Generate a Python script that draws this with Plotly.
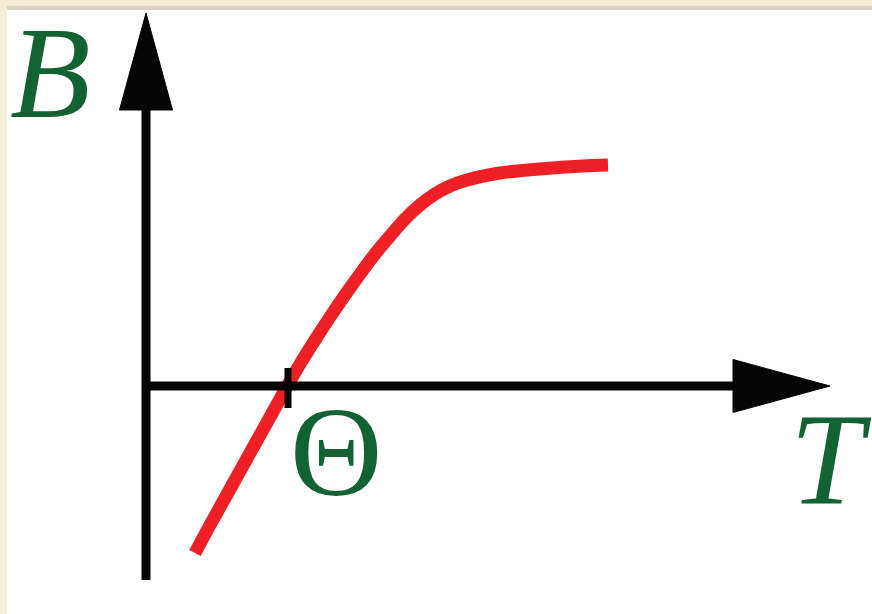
import plotly.graph_objects as go

# Magnetisation-like curve B(T) crossing zero at the temperature Θ
T_vals = [0.49, 0.64, 0.79, 0.94, 1.09, 1.24, 1.39, 1.54, 1.69, 1.84, 1.99, 2.14,
          2.29, 2.44, 2.59, 2.74, 2.89, 3.04, 3.21, 3.54, 3.94, 4.37, 4.62]
B_vals = [-1.67, -1.39, -1.12, -0.85, -0.58, -0.31, -0.04, 0.22, 0.46, 0.69, 0.91, 1.12,
          1.32, 1.50, 1.67, 1.81, 1.92, 2.00, 2.06, 2.13, 2.17, 2.20, 2.21]
theta_T = 1.42

# Axis extents (data units)
x_axis_end = 6.84     # tip of T-arrow
y_axis_end = 3.73     # tip of B-arrow
y_axis_bottom = -1.94
head_len = 0.97
head_half = 0.265

X_RANGE = [-1.46, 7.26]
Y_RANGE = [-2.28, 3.86]

CREAM = "#F4ECD4"
GREEN = "#126234"
RED = "#EE2026"
INK = "#050505"
LW = 9
SERIF = "Liberation Serif, Times New Roman, serif"

fig = go.Figure()
fig.add_trace(go.Scatter(
    x=T_vals, y=B_vals, mode="lines",
    line=dict(color=RED, width=13, shape="spline", smoothing=0.8),
    hoverinfo="skip", showlegend=False,
))

shapes = [
    # white panel with a thin grey rule along its top edge
    dict(type="rect", xref="paper", yref="paper", x0=7 / 872, x1=1, y0=0, y1=1 - 9 / 614,
         fillcolor="white", line_width=0, layer="below"),
    dict(type="rect", xref="paper", yref="paper", x0=7 / 872, x1=1, y0=1 - 10 / 614, y1=1 - 6 / 614,
         fillcolor="#DCD3C4", line_width=0, layer="below"),
    # vertical axis
    dict(type="line", x0=0, x1=0, y0=y_axis_bottom, y1=y_axis_end - head_len + 0.05,
         line=dict(color=INK, width=LW), layer="above"),
    # horizontal axis
    dict(type="line", x0=0, x1=x_axis_end - head_len + 0.05, y0=0, y1=0,
         line=dict(color=INK, width=LW), layer="above"),
    # tick at Θ
    dict(type="line", x0=theta_T, x1=theta_T, y0=-0.22, y1=0.18,
         line=dict(color=INK, width=7), layer="above"),
]

# arrowheads
yb = y_axis_end - head_len
shapes.append(dict(type="path", layer="above", fillcolor=INK, line=dict(color=INK, width=1),
                   path=f"M {-head_half} {yb} L 0 {y_axis_end} L {head_half} {yb} Z"))
xb = x_axis_end - head_len
shapes.append(dict(type="path", layer="above", fillcolor=INK, line=dict(color=INK, width=1),
                   path=f"M {xb} {head_half} L {x_axis_end} 0 L {xb} {-head_half} Z"))

fig.update_layout(shapes=shapes)

font_i = dict(family=SERIF, size=132, color=GREEN, style="italic")
font_u = dict(family=SERIF, size=128, color=GREEN)
fig.add_annotation(x=-0.96, y=3.14, text="B", showarrow=False, font=font_i,
                   xanchor="center", yanchor="middle")
fig.add_annotation(x=6.85, y=-0.73, text="T", showarrow=False, font=font_i,
                   xanchor="center", yanchor="middle")
fig.add_annotation(x=1.90, y=-0.66, text="Θ", showarrow=False, font=font_u,
                   xanchor="center", yanchor="middle")

fig.update_layout(
    width=872, height=614,
    margin=dict(l=0, r=0, t=0, b=0),
    paper_bgcolor=CREAM, plot_bgcolor="rgba(0,0,0,0)",
    xaxis=dict(range=X_RANGE, visible=False, fixedrange=True),
    yaxis=dict(range=Y_RANGE, visible=False, fixedrange=True),
    showlegend=False,
)

fig.write_html("out.html", config={"displayModeBar": False})
